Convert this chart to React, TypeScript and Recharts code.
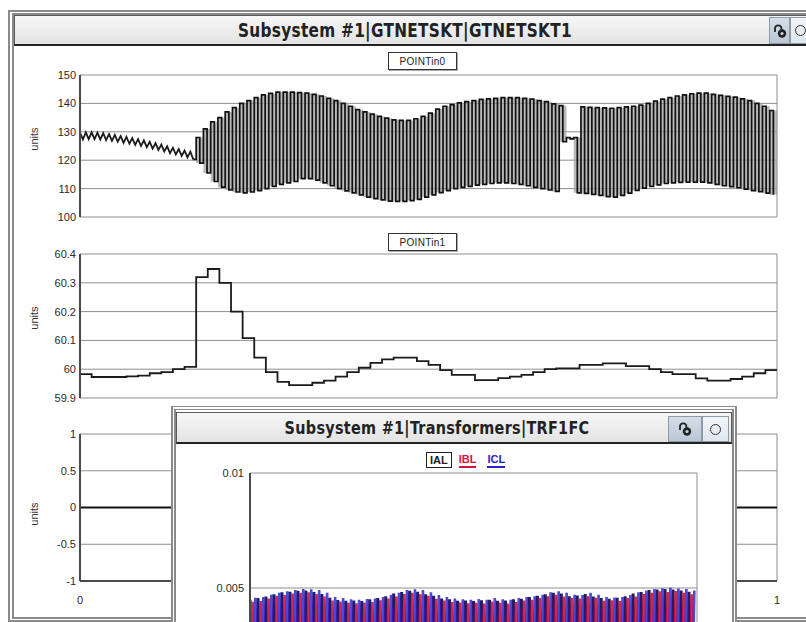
import React from 'react';
import { ComposedChart, LineChart, Line, Area, XAxis, YAxis, CartesianGrid } from 'recharts';

// POINTin0: small ripple before the event, one peak + one trough per cycle
const RIPPLE_PEAKS = [129.7, 129.8, 129.8, 129.7, 129.5, 129.2, 128.9, 128.5, 128.2, 127.8, 127.4, 127.0, 126.5, 126.0, 125.5, 124.9, 124.4, 123.9, 123.4, 123.0];
const RIPPLE_TROUGHS = [127.3, 127.4, 127.4, 127.3, 127.1, 126.8, 126.5, 126.1, 125.8, 125.4, 125.0, 124.6, 124.1, 123.6, 123.1, 122.5, 122.0, 121.5, 121.0, 120.3];

// POINTin0: swing after the event (the 128 / 127 values are the short dropout)
const SWING_PEAKS = [
  128, 131, 133.5, 135, 137, 138.5, 140, 141, 142, 143,
  143.5, 144, 144, 144, 143.8, 143.6, 143.2, 142.6, 141.8, 141,
  140, 139, 137.8, 137, 136.2, 135.4, 134.8, 134.2, 134, 134,
  134.6, 135.4, 136.6, 138, 139, 139.6, 140.2, 140.6, 141, 141.4,
  141.6, 141.8, 142, 142, 142, 141.8, 141.5, 141, 140.6, 139.8,
  139.2, 128, 128, 138.8, 138.6, 138.5, 138.4, 138.3, 138.5, 138.8,
  139, 139.4, 140, 140.8, 141.5, 142, 142.6, 143, 143.4, 143.6,
  143.6, 143.2, 142.8, 142.5, 142.2, 141.6, 141, 140, 139, 137.5,
];
const SWING_TROUGHS = [
  119, 115.5, 112.5, 110.5, 109.5, 108.8, 108.5, 108.8, 109.3, 110,
  110.8, 111.5, 112, 112.5, 113.5, 113.5, 113, 112, 111, 110,
  109.2, 108.5, 107.8, 107, 106.5, 106, 105.6, 105.5, 105.5, 105.8,
  106.2, 107, 107.8, 108.6, 109.3, 110, 110.4, 110.8, 111.2, 111.5,
  111.8, 112, 112, 111.8, 111.5, 111, 110.4, 110, 109.5, 109,
  126.5, 127.5, 108.5, 108.3, 108, 107.6, 107.2, 107, 107.6, 108.4,
  109.4, 110.2, 110.8, 111.3, 111.8, 112, 112.2, 112.3, 112.3, 112.3,
  112, 111.5, 111, 110.7, 110.3, 109.8, 109.3, 108.9, 108.4, 107.8,
];

// POINTin1: one value per 1/60 step
const FREQ = [
  59.983, 59.973, 59.973, 59.973, 59.975, 59.978, 59.986, 59.99, 60.0, 60.008,
  60.32, 60.348, 60.3, 60.2, 60.108, 60.04, 59.99, 59.956, 59.945, 59.945,
  59.953, 59.96, 59.974, 59.99, 60.005, 60.022, 60.034, 60.04, 60.04, 60.028,
  60.015, 59.997, 59.98, 59.98, 59.962, 59.962, 59.969, 59.974, 59.98, 59.99,
  60.0, 60.003, 60.003, 60.015, 60.015, 60.02, 60.02, 60.011, 60.011, 60.0,
  59.99, 59.983, 59.983, 59.968, 59.96, 59.96, 59.966, 59.974, 59.986, 59.997,
];

// third panel is flat
const FLAT = [0, 0];

// TRF1FC phase currents, one peak per cycle
const IAL_PEAKS = [
  0.00449, 0.00456, 0.00463, 0.00473, 0.00481, 0.00484, 0.00488, 0.00489, 0.00483, 0.00474,
  0.00457, 0.00448, 0.00444, 0.00446, 0.00443, 0.00451, 0.00456, 0.00464, 0.00476, 0.00483,
  0.00488, 0.00484, 0.00473, 0.00466, 0.00454, 0.00451, 0.00444, 0.00446, 0.00443, 0.00447,
  0.00449, 0.00444, 0.00446, 0.00451, 0.00453, 0.00461, 0.00466, 0.00473, 0.00479, 0.00476,
  0.00464, 0.00467, 0.00474, 0.00463, 0.00456, 0.00453, 0.00457, 0.00464, 0.00476, 0.00483,
  0.00491, 0.00493, 0.00496, 0.00493, 0.00489, 0.00484,
];
const IBL_PEAKS = [
  0.0044, 0.00443, 0.00454, 0.00466, 0.00469, 0.00476, 0.00479, 0.00481, 0.00474, 0.00463,
  0.00446, 0.00441, 0.00436, 0.00434, 0.00437, 0.00439, 0.00447, 0.00454, 0.00463, 0.00474,
  0.00479, 0.00473, 0.00466, 0.00453, 0.00446, 0.00439, 0.00437, 0.00434, 0.00436, 0.00433,
  0.00441, 0.00436, 0.00433, 0.00439, 0.00446, 0.00449, 0.00456, 0.00464, 0.00471, 0.00463,
  0.00456, 0.00454, 0.00464, 0.00457, 0.00444, 0.00447, 0.00443, 0.00456, 0.00463, 0.00474,
  0.00479, 0.00486, 0.00483, 0.00487, 0.00479, 0.00473,
];
const ICL_PEAKS = [
  0.00457, 0.00461, 0.00471, 0.00479, 0.00486, 0.00491, 0.00496, 0.00494, 0.00491, 0.00479,
  0.00461, 0.00456, 0.00451, 0.00449, 0.00452, 0.00454, 0.00461, 0.00471, 0.00479, 0.00491,
  0.00494, 0.00491, 0.00481, 0.00469, 0.00461, 0.00454, 0.00451, 0.00449, 0.00452, 0.00449,
  0.00456, 0.00451, 0.00449, 0.00456, 0.00461, 0.00464, 0.00471, 0.00481, 0.00486, 0.00479,
  0.00471, 0.00469, 0.00479, 0.00471, 0.00461, 0.00459, 0.00461, 0.00469, 0.00481, 0.00489,
  0.00496, 0.00499, 0.00501, 0.00498, 0.00496, 0.00489,
];
const CURRENT_TROUGH = -0.0048; // below the visible part of the window

const TIME_TICKS = [0, 1 / 6, 2 / 6, 3 / 6, 4 / 6, 5 / 6, 1];
const P0_TICKS = [100, 110, 120, 130, 140, 150];
const P1_TICKS = [59.9, 60, 60.1, 60.2, 60.3, 60.4];
const P2_TICKS = [-1, -0.5, 0, 0.5, 1];
const CUR_TICKS = [0.005, 0.01]; // the 0 tick sits below the window edge

type Pt = { t: number; v: number };

// peaks/troughs -> alternating points spread evenly over [t0, t1)
function alternate(peaks: number[], troughs: number[], t0: number, t1: number): Pt[] {
  const step = (t1 - t0) / (2 * peaks.length);
  const out: Pt[] = [];
  peaks.forEach((p, i) => {
    out.push({ t: t0 + 2 * i * step, v: p });
    out.push({ t: t0 + (2 * i + 1) * step, v: troughs[i] });
  });
  return out;
}

function phase(peaks: number[], shift: number): Pt[] {
  const n = peaks.length;
  const out: Pt[] = [];
  if (shift > 0) out.push({ t: 0, v: CURRENT_TROUGH });
  peaks.forEach((p, i) => {
    out.push({ t: (i + shift) / n, v: p });
    const b = (i + shift + 0.5) / n;
    if (b <= 1) out.push({ t: b, v: CURRENT_TROUGH });
  });
  return out;
}

const ripple = alternate(RIPPLE_PEAKS, RIPPLE_TROUGHS, 0, 1 / 6);
const swing = alternate(SWING_PEAKS, SWING_TROUGHS, 1 / 6, 1);
// join the two pieces so the step trace starts where the ripple ends
const swingJoined = [ripple[ripple.length - 1], ...swing];
// grey body of the swing, one [trough, peak] pair per cycle
const swingBand = SWING_PEAKS.map((p, i) => ({
  t: 1 / 6 + (i * (5 / 6)) / SWING_PEAKS.length,
  band: [SWING_TROUGHS[i], p],
}));
swingBand.push({ t: 1, band: swingBand[swingBand.length - 1].band });

const point1 = [...FREQ.map((v, i) => ({ t: i / FREQ.length, v })), { t: 1, v: FREQ[FREQ.length - 1] }];
const point2 = FLAT.map((v, i) => ({ t: i, v }));
const ial = phase(IAL_PEAKS, 0);
const ibl = phase(IBL_PEAKS, 1 / 3);
const icl = phase(ICL_PEAKS, 2 / 3);

const FONT = 'Arial, "Liberation Sans", Helvetica, sans-serif';
const TITLE_FONT = '"Liberation Sans Narrow", "DejaVu Sans Condensed", Arial, sans-serif';
const GRID = '#8e8e8e';
const AXIS = '#4a4a4a';
const TICK = { fontSize: 11, fill: '#2a2a2a', fontFamily: FONT };

const abs = (l: number, t: number, w: number, h: number): React.CSSProperties => ({
  position: 'absolute', left: l, top: t, width: w, height: h, boxSizing: 'border-box',
});

function LockIcon() {
  return (
    <svg width="16" height="16" viewBox="0 0 16 16">
      <path d="M3 9 V5.5 a3.2 3.2 0 0 1 6.4 0 V7" fill="none" stroke="#222" strokeWidth="1.8" />
      <circle cx="10" cy="10.5" r="4.2" fill="#222" />
      <circle cx="10" cy="10.5" r="1.6" fill="#c9d3de" />
    </svg>
  );
}

function Buttons({ left, top, w1, w2, h }: { left: number; top: number; w1: number; w2: number; h: number }) {
  return (
    <>
      <div style={{ ...abs(left, top, w1, h), background: 'linear-gradient(#d6dee8, #b9c6d4)', border: '1px solid #8d9aa8', display: 'flex', alignItems: 'center', justifyContent: 'center' }}>
        <LockIcon />
      </div>
      <div style={{ ...abs(left + w1, top, w2, h), background: 'linear-gradient(#f2f5f9, #dfe6ee)', border: '1px solid #8d9aa8', display: 'flex', alignItems: 'center', justifyContent: 'center' }}>
        <div style={{ width: 9, height: 9, borderRadius: '50%', border: '1.6px solid #333' }} />
      </div>
    </>
  );
}

function Units({ top }: { top: number }) {
  return (
    <div style={{ position: 'absolute', left: 34, top, transform: 'translate(-50%, -50%) rotate(-90deg)', fontSize: 11, color: '#333', fontFamily: FONT }}>
      units
    </div>
  );
}

function TagBox({ left, top, text }: { left: number; top: number; text: string }) {
  return (
    <div style={{ ...abs(left, top, 69, 18), border: '1.5px solid #333', boxShadow: '1px 1px 0 #aaa', fontSize: 10, fontFamily: FONT, color: '#222', display: 'flex', alignItems: 'center', justifyContent: 'center', letterSpacing: 0.3 }}>
      {text}
    </div>
  );
}

const yAxisProps = {
  type: 'number' as const,
  width: 50,
  tickLine: false,
  tickSize: 0,
  tickMargin: 4,
  interval: 0 as const,
  tick: TICK,
  axisLine: { stroke: AXIS, strokeWidth: 2 },
};

export default function App() {
  return (
    <div style={{ position: 'fixed', left: 0, top: 0, width: 806, height: 622, overflow: 'hidden', background: '#fff' }}>
      {/* outer window */}
      <div style={{ ...abs(8, 10, 810, 612), borderLeft: '6px double #8a8a8a', borderTop: '5px double #8a8a8a', borderBottom: '5px double #8a8a8a', background: '#fff' }} />
      <div style={{ ...abs(14, 15, 800, 31), background: 'linear-gradient(#f7f7f7, #e3e3e3)', border: '1px solid #5a5a5a', borderBottom: '2px solid #222' }} />
      <div style={{ position: 'absolute', left: 405, top: 30, transform: 'translate(-50%, -50%) scaleY(1.1)', fontFamily: TITLE_FONT, fontWeight: 'bold', fontSize: 17, letterSpacing: 0.3, color: '#222', whiteSpace: 'nowrap' }}>
        Subsystem #1|GTNETSKT|GTNETSKT1
      </div>
      <Buttons left={769} top={17} w1={21} w2={20} h={27} />

      {/* POINTin0 */}
      <TagBox left={388} top={52} text="POINTin0" />
      <Units top={139} />
      <div style={abs(14, 68, 792, 155)}>
        <ComposedChart width={792} height={155} margin={{ top: 7, right: 29, bottom: 6, left: 16 }}>
          <CartesianGrid stroke={GRID} />
          <XAxis dataKey="t" type="number" domain={[0, 1]} ticks={TIME_TICKS} height={0} tick={false} tickLine={false} axisLine={{ stroke: AXIS, strokeWidth: 2 }} />
          <YAxis {...yAxisProps} domain={[100, 150]} ticks={P0_TICKS} />
          <Area data={swingBand} dataKey="band" type="stepAfter" stroke="none" fill="#9c9c9c" fillOpacity={0.7} dot={false} activeDot={false} isAnimationActive={false} />
          <Line data={ripple} dataKey="v" type="linear" stroke="#1b1b1b" strokeWidth={1.8} dot={false} activeDot={false} isAnimationActive={false} />
          <Line data={swingJoined} dataKey="v" type="stepAfter" stroke="#111" strokeWidth={1.7} dot={false} activeDot={false} isAnimationActive={false} />
        </ComposedChart>
      </div>

      {/* POINTin1 */}
      <TagBox left={388} top={233} text="POINTin1" />
      <Units top={318} />
      <div style={abs(14, 247, 792, 157)}>
        <LineChart width={792} height={157} data={point1} margin={{ top: 7, right: 29, bottom: 6, left: 16 }}>
          <CartesianGrid stroke={GRID} />
          <XAxis dataKey="t" type="number" domain={[0, 1]} ticks={TIME_TICKS} height={0} tick={false} tickLine={false} axisLine={{ stroke: AXIS, strokeWidth: 2 }} />
          <YAxis {...yAxisProps} domain={[59.9, 60.4]} ticks={P1_TICKS} />
          <Line dataKey="v" type="stepAfter" stroke="#1b1b1b" strokeWidth={1.8} dot={false} activeDot={false} isAnimationActive={false} />
        </LineChart>
      </div>

      {/* third panel */}
      <Units top={514} />
      <div style={abs(14, 427, 792, 185)}>
        <LineChart width={792} height={185} data={point2} margin={{ top: 7, right: 29, bottom: 7, left: 16 }}>
          <CartesianGrid stroke={GRID} />
          <XAxis
            dataKey="t" type="number" domain={[0, 1]} ticks={TIME_TICKS} height={24} interval={0}
            tickLine={false} tickSize={0} tickMargin={15} tick={TICK}
            axisLine={{ stroke: AXIS, strokeWidth: 2 }}
            tickFormatter={(v: number) => (v === 0 || v === 1 ? String(v) : v.toFixed(2))}
          />
          <YAxis {...yAxisProps} domain={[-1, 1]} ticks={P2_TICKS} />
          <Line dataKey="v" type="linear" stroke="#111" strokeWidth={2.2} dot={false} activeDot={false} isAnimationActive={false} />
        </LineChart>
      </div>

      {/* inset window */}
      <div style={{ ...abs(171, 406, 566, 240), borderLeft: '5px double #8a8a8a', borderRight: '5px double #8a8a8a', borderTop: '4px double #8a8a8a', background: '#fff' }} />
      <div style={{ ...abs(176, 412, 556, 32), background: 'linear-gradient(#f7f7f7, #e3e3e3)', border: '1px solid #5a5a5a', borderBottom: '2px solid #222' }} />
      <div style={{ position: 'absolute', left: 437, top: 428, transform: 'translate(-50%, -50%) scaleY(1.1)', fontFamily: TITLE_FONT, fontWeight: 'bold', fontSize: 16, letterSpacing: 0.3, color: '#222', whiteSpace: 'nowrap' }}>
        Subsystem #1|Transformers|TRF1FC
      </div>
      <Buttons left={668} top={416} w1={34} w2={27} h={26} />

      <div style={{ position: 'absolute', left: 426, top: 452, display: 'flex', gap: 7, fontFamily: FONT, fontSize: 11, fontWeight: 'bold' }}>
        <div style={{ border: '1.5px solid #222', padding: '0 3px', color: '#222', lineHeight: '14px' }}>IAL</div>
        <div style={{ color: '#d4143c', borderBottom: '2px solid #d4143c', lineHeight: '14px' }}>IBL</div>
        <div style={{ color: '#2424c8', borderBottom: '2px solid #2424c8', lineHeight: '14px', marginLeft: 4 }}>ICL</div>
      </div>
      <div style={abs(176, 447, 555, 274)}>
        <LineChart width={555} height={274} margin={{ top: 26, right: 34, bottom: 18, left: 10 }}>
          <CartesianGrid stroke={GRID} />
          <XAxis dataKey="t" type="number" domain={[0, 1]} ticks={TIME_TICKS} height={0} tick={false} tickLine={false} axisLine={{ stroke: AXIS, strokeWidth: 2 }} allowDataOverflow />
          <YAxis {...yAxisProps} width={64} tickMargin={6} domain={[0, 0.01]} ticks={CUR_TICKS} allowDataOverflow />
          <Line data={ial} dataKey="v" type="linear" stroke="#241a66" strokeWidth={3} dot={false} activeDot={false} isAnimationActive={false} />
          <Line data={ibl} dataKey="v" type="linear" stroke="#cc1040" strokeWidth={2.6} strokeOpacity={0.9} dot={false} activeDot={false} isAnimationActive={false} />
          <Line data={icl} dataKey="v" type="linear" stroke="#3028c8" strokeWidth={2.6} strokeOpacity={0.85} dot={false} activeDot={false} isAnimationActive={false} />
        </LineChart>
      </div>
    </div>
  );
}
